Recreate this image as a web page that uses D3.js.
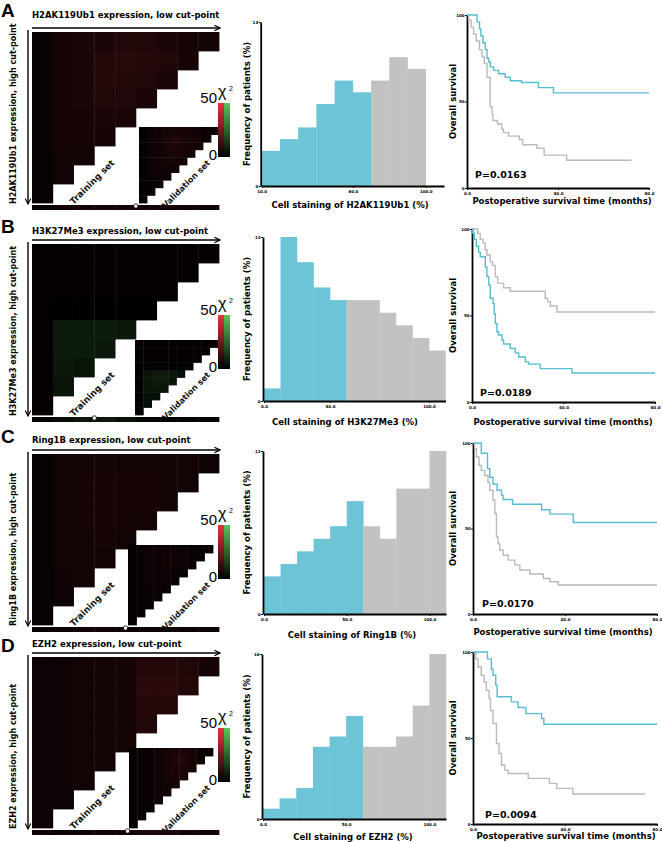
<!DOCTYPE html>
<html>
<head>
<meta charset="utf-8">
<script src="https://cdn.jsdelivr.net/npm/d3@7"></script>
<style>
  body { margin: 0; background: #fff; }
  text { font-family: "DejaVu Sans", Verdana, sans-serif; }
</style>
</head>
<body>
<div id="fig"></div>
<script>
// ---- DATA ----

const panelLetters = ["A", "B", "C", "D"];
const markers = ["H2AK119Ub1", "H3K27Me3", "Ring1B", "EZH2"];
const pValues = ["P=0.0163", "P=0.0189", "P=0.0170", "P=0.0094"];

// X-tile chi-square grids (positive = red, negative = green)
const trainA = [[2,5,6,6,7,7,6,5,4],[2,5,6,8,9,8,7,5],[2,5,6,8,8,7,6],[2,5,6,7,7,6],[2,5,5,6,6],[2,5,5,5],[2,4,4],[2,4],[2]];
const trainB = [[1,1,1,1,1,1,1,1,1],[1,1,1,1,1,1,1,1],[1,1,1,1,1,1,1],[1,0,0,0,0,0],[1,-7,-7,-7,-6],[1,-7,-7,-6],[1,-6,-5],[1,-5],[1]];
const trainC = [[2,4,4,4,4,4,4,4,3],[2,4,5,5,5,5,4,4],[2,4,5,5,5,5,4],[2,4,5,5,5,4],[2,4,4,5,4],[2,4,4,4],[2,3,4],[2,3],[2]];
const trainD = [[3,3,4,4,5,8,8,7,5],[3,3,4,4,5,9,9,8],[3,3,4,4,5,8,8],[3,3,4,4,5,7],[3,3,4,4,5],[3,3,4,4],[3,3,4],[3,3],[3]];

const validA = [[1,3,4,5,5,5,4,3,2,2],[1,3,4,6,7,6,5,4,3],[1,3,4,6,7,6,5,4],[1,3,4,5,6,5,4],[1,3,4,5,5,4],[1,3,3,4,4],[1,2,3,3],[1,2,3],[1,2],[1]];
const validB = [[1,1,1,1,1,1,1,1,1,1],[1,1,1,1,1,1,1,1,1],[1,1,1,1,1,1,1,1],[1,0,-1,-1,0,0,0],[1,-5,-7,-7,-6,-4],[1,-5,-7,-7,-5],[1,-5,-6,-5],[1,-4,-4],[1,-3],[1]];
const validC = [[1,2,3,3,3,3,3,2,2,2],[1,2,3,3,4,3,3,2,2],[1,2,3,3,4,3,3,2],[1,2,3,3,3,3,2],[1,2,3,3,3,2],[1,2,2,3,2],[1,2,2,2],[1,2,2],[1,2],[1]];
const validD = [[1,2,2,3,5,6,6,5,3,2],[1,2,2,3,5,7,7,5,3],[1,2,2,3,5,6,6,5],[1,2,2,3,5,6,5],[1,2,2,3,4,5],[1,2,2,3,4],[1,2,2,3],[1,2,2],[1,2],[1]];

// strip below each X-tile plot and optimal cut-point marker (column units)
const stripA = [2,4,5,5,5,5,4,4,3];
const stripB = [1,-3,-6,-6,-4,-2,1,1,1];
const stripC = [2,3,4,4,3,3,3,3,2];
const stripD = [3,3,3,4,4,6,6,5,4];
const cutMarks = [5, 3, 4.5, 4.6];

// histograms: frequency (%) per 10% bin, low group (teal) then high group (grey)
const binStart = [10, 0, 0, 0];
const histXMax = [110, 110, 110, 110];
const histLow  = [[3,4,5,7,9,8], [1,13,11,9,8], [3,4,5,6,7,9], [1,2,3,7,8,10]];
const histHigh = [[9,11,10], [8,8,7,6,5,4], [7,6,10,10,13], [7,7,8,11,16]];
const histYMax = [14, 13, 13, 16];
const histXTicks = [[10,60,100], [0,40,100], [0,50,100], [0,50,100]];

// Kaplan-Meier curves: [months, survival %]
const kmTealA = [[0,100],[4.4,96],[5.5,92],[6.1,88],[7,84],[8,80],[8.8,75],[9.5,73],[10.2,70],[11.7,68],[13.9,66],[16.8,64],[19,62],[24,61],[31.4,58],[38,55],[80,55]];
const kmGrayA = [[0,100],[0.7,97],[1.8,93],[2.9,89],[4.1,85],[5.5,80],[6.6,76],[7.6,72],[8.8,64],[10.2,47],[11,43],[11.4,39],[13.4,37],[15.3,34],[16,32],[18.3,30],[23,28],[24.5,25],[30.7,23],[33.9,19],[43.8,16],[72.3,16]];
const kmTealB = [[0,100],[0.3,97.5],[1,94],[1.9,90],[2.9,86.5],[3.6,84],[5.8,78],[6.5,72.5],[7.3,67.7],[8,60],[9.2,57],[9.7,51],[10.2,45.4],[10.9,40.6],[11.6,38.7],[13.1,35.8],[13.8,33.5],[16.7,31],[18.9,28.4],[20.4,26],[23.3,23.2],[24.7,21.9],[29.8,19.3],[43.7,16.8],[80,16.8]];
const kmGrayB = [[0,100],[2.5,97.5],[3.6,94],[4.8,92],[5.8,88],[6.5,85],[8,81],[9,79],[10.2,72.5],[11.2,68.7],[13.8,66],[16.7,64],[32,60],[33,58],[34.2,55.5],[37.1,52],[80,52]];
const kmTealC = [[0,100],[3.6,94],[6.3,85],[7.3,80],[8.7,76],[10.5,72.4],[12.4,69.5],[13.1,67],[17.2,64.2],[29.8,61],[33.5,58.4],[43.6,53.5],[80,53.5]];
const kmGrayC = [[0,100],[0.7,96.7],[1.5,91.8],[2.6,87],[3.6,84],[5.1,81],[6.5,77],[7.3,72.4],[8.7,66.5],[9.5,58.8],[10.2,45],[10.9,41],[11.6,37.4],[13.1,34.4],[15.3,31.5],[18.2,28.6],[20.4,25.7],[24.7,23.4],[30.6,20.8],[33.5,18.9],[37.1,17],[80,17]];
const kmTealD = [[0,100],[6.3,96],[8,90],[8.7,86.5],[9.9,80.6],[10.5,74],[16.7,71],[19.6,67.7],[23,64.2],[29.8,61.3],[30.8,58],[80,58]];
const kmGrayD = [[0,100],[1.2,96],[2.2,91.3],[3.6,86.5],[4.8,82.6],[5.8,77.7],[7,73],[7.6,66],[8.7,58.4],[10.2,46.8],[11.3,41],[12.4,34.2],[13.8,31.3],[15.3,29.4],[24,26.5],[33.2,23.6],[36.4,20.7],[43.4,17.4],[74.9,17.4]];
const kmXTicks = [0, 40, 80];
const kmYTicks = [0, 50, 100];

const trainSets = [trainA, trainB, trainC, trainD];
const validSets = [validA, validB, validC, validD];
const stripSets = [stripA, stripB, stripC, stripD];
const kmTeal = [kmTealA, kmTealB, kmTealC, kmTealD];
const kmGray = [kmGrayA, kmGrayB, kmGrayC, kmGrayD];

// ---- LAYOUT ----

const layout = [
  { top: 28,  title: 18,  letter: 17,  inset: [139, 219, 127],
    hist: { x: [261.7, 444], y: [186, 22],  lab: [350, 208] },
    km:   { x: [467, 649],   y: [188, 15],  lab: [562, 204], p: [475, 178] } },
  { top: 240, title: 234, letter: 233, inset: [135, 218, 340],
    hist: { x: [264, 445.5], y: [401, 237], lab: [345, 425] },
    km:   { x: [472, 655],   y: [402, 229], lab: [563, 425], p: [480, 396] } },
  { top: 450, title: 443, letter: 443, inset: [128, 213, 545],
    hist: { x: [264, 446],   y: [614, 451], lab: [352, 638] },
    km:   { x: [473, 657],   y: [614, 443], lab: [563, 635], p: [482, 607] } },
  { top: 653, title: 647, letter: 652, inset: [129, 213, 748],
    hist: { x: [263, 446],   y: [819, 654], lab: [353, 840] },
    km:   { x: [473, 657],   y: [824, 652], lab: [566, 839], p: [485, 818] } }
];

const TEAL = "#6cc4d6", GREY = "#c2c2c2";
const KM_TEAL = "#58bdd1", KM_GREY = "#bbbbbb";
const RED = "#e3333b", GREEN = "#5cc45c";

function chiColor(v) {
  return v >= 0 ? d3.interpolateRgb("#000000", RED)(v / 50)
                : d3.interpolateRgb("#000000", GREEN)(-v / 50);
}

// ---- SVG ----

const svg = d3.select("#fig").append("svg")
  .attr("width", 662).attr("height", 842);

svg.append("rect").attr("width", 662).attr("height", 842).attr("fill", "#fff");

const defs = svg.append("defs");
[["gRed", RED], ["gGreen", GREEN]].forEach(([id, c]) => {
  const lg = defs.append("linearGradient").attr("id", id)
    .attr("x1", 0).attr("y1", 0).attr("x2", 0).attr("y2", 1);
  lg.append("stop").attr("offset", "0%").attr("stop-color", c);
  lg.append("stop").attr("offset", "100%").attr("stop-color", "#000");
});
defs.append("marker").attr("id", "arrow")
  .attr("viewBox", "0 0 10 10").attr("refX", 9).attr("refY", 5)
  .attr("markerWidth", 5).attr("markerHeight", 5).attr("orient", "auto")
  .append("path").attr("d", "M1,1 L9,5 L1,9").attr("fill", "none")
  .attr("stroke", "#000").attr("stroke-width", 1.6);

function drawGrid(g, grid, x0, x1, y0, y1) {
  const xs = d3.scaleBand().domain(d3.range(grid[0].length)).range([x0, x1]);
  const ys = d3.scaleBand().domain(d3.range(grid.length)).range([y0, y1]);
  grid.forEach((row, r) => {
    g.selectAll(null).data(row).enter().append("rect")
      .attr("x", (d, c) => xs(c))
      .attr("y", ys(r))
      .attr("width", xs.bandwidth() + 0.4)
      .attr("height", ys.bandwidth() + 0.4)
      .attr("fill", d => chiColor(d));
  });
}

layout.forEach((L, i) => {
  const a = L.top;
  const g = svg.append("g");

  // panel letter
  g.append("text").attr("x", 1).attr("y", L.letter)
    .style("font-family", '"Liberation Sans", Arial, sans-serif')
    .style("font-size", "19px").style("font-weight", "bold")
    .text(panelLetters[i]);

  // ---- X-tile plot ----
  g.append("text").attr("x", 32).attr("y", L.title)
    .style("font-size", "8.5px").style("font-weight", "bold")
    .text(markers[i] + " expression, low cut-point");

  g.append("line").attr("x1", 32).attr("x2", 220).attr("y1", a).attr("y2", a)
    .attr("stroke", "#000").attr("stroke-width", 1.4).attr("marker-end", "url(#arrow)");
  g.append("line").attr("x1", 28).attr("x2", 28).attr("y1", a + 2).attr("y2", a + 176)
    .attr("stroke", "#000").attr("stroke-width", 1.4).attr("marker-end", "url(#arrow)");

  g.append("text")
    .attr("transform", `translate(16,${a + 176}) rotate(-90)`)
    .style("font-size", "8px").style("font-weight", "bold")
    .text(markers[i] + " expression,  high cut-point");

  drawGrid(g, trainSets[i], 32, 219, a + 4, a + 175);
  drawGrid(g, validSets[i], L.inset[0], L.inset[1], L.inset[2], a + 175);

  // strip and cut-point marker
  const sx = d3.scaleLinear().domain([0, stripSets[i].length]).range([32, 219]);
  g.selectAll(null).data(stripSets[i]).enter().append("rect")
    .attr("x", (d, k) => sx(k)).attr("y", a + 177)
    .attr("width", sx(1) - sx(0) + 0.4).attr("height", 5)
    .attr("fill", d => chiColor(d));
  g.append("circle").attr("cx", sx(cutMarks[i])).attr("cy", a + 178).attr("r", 2.2)
    .attr("fill", "#fff").attr("stroke", "#000").attr("stroke-width", 0.8);

  g.append("text")
    .attr("transform", `translate(92,${a + 154}) rotate(-45)`)
    .attr("text-anchor", "middle").attr("dy", "0.35em")
    .style("font-size", "8.8px").style("font-weight", "bold").attr("fill", "#111")
    .text("Training set");
  g.append("text")
    .attr("transform", `translate(186,${a + 156}) rotate(-45)`)
    .attr("text-anchor", "middle").attr("dy", "0.35em")
    .style("font-size", "8.2px").style("font-weight", "bold").attr("fill", "#111")
    .text("Validation set");

  // chi-square legend
  g.append("rect").attr("x", 218).attr("y", a + 75).attr("width", 6).attr("height", 54)
    .attr("fill", "url(#gRed)");
  g.append("rect").attr("x", 224).attr("y", a + 75).attr("width", 6).attr("height", 54)
    .attr("fill", "url(#gGreen)");
  const lf = '"Liberation Sans", Arial, sans-serif';
  g.append("text").attr("x", 217).attr("y", a + 75).attr("text-anchor", "end")
    .style("font-family", lf).style("font-size", "15px").text("50");
  g.append("text").attr("x", 217).attr("y", a + 132).attr("text-anchor", "end")
    .style("font-family", lf).style("font-size", "15px").text("0");
  g.append("text").attr("x", 218).attr("y", a + 69)
    .style("font-family", lf).style("font-size", "16px").text("\u03C7");
  g.append("text").attr("x", 229).attr("y", a + 63)
    .style("font-family", lf).style("font-size", "7px").text("2");

  // ---- histogram ----
  const H = L.hist;
  const hx = d3.scaleLinear().domain([binStart[i], histXMax[i]]).range(H.x);
  const hy = d3.scaleLinear().domain([0, histYMax[i]]).range(H.y);
  const bins = histLow[i].map(v => ({ v, c: TEAL }))
    .concat(histHigh[i].map(v => ({ v, c: GREY })));
  g.selectAll(null).data(bins).enter().append("rect")
    .attr("x", (d, k) => hx(binStart[i] + 10 * k))
    .attr("y", d => hy(d.v))
    .attr("width", (d, k) => hx(binStart[i] + 10 * (k + 1)) - hx(binStart[i] + 10 * k) + 0.3)
    .attr("height", d => hy(0) - hy(d.v))
    .attr("fill", d => d.c);

  const hxAxis = g.append("g").attr("transform", `translate(0,${H.y[0]})`)
    .call(d3.axisBottom(hx).tickValues(histXTicks[i]).tickFormat(d3.format(".1f"))
      .tickSize(2).tickSizeOuter(0));
  const hyAxis = g.append("g").attr("transform", `translate(${H.x[0] - 1},0)`)
    .call(d3.axisLeft(hy).tickValues([0, histYMax[i]]).tickSize(2).tickSizeOuter(0));
  [hxAxis, hyAxis].forEach(ax => {
    ax.select(".domain").attr("stroke-width", 1.8);
    ax.selectAll("text").style("font-size", "4px").style("font-weight", "bold")
      .style("font-family", '"DejaVu Sans", sans-serif');
  });
  hyAxis.selectAll("text").attr("x", -2.5);
  hxAxis.selectAll("text").attr("y", 4);

  g.append("text").attr("x", H.lab[0]).attr("y", H.lab[1]).attr("text-anchor", "middle")
    .style("font-size", "8.5px").style("font-weight", "bold")
    .text("Cell staining of " + markers[i] + " (%)");
  g.append("text")
    .attr("transform", `translate(250,${(H.y[0] + H.y[1]) / 2}) rotate(-90)`)
    .attr("text-anchor", "middle")
    .style("font-size", "8.5px").style("font-weight", "bold")
    .text("Frequency of patients (%)");

  // ---- Kaplan-Meier ----
  const K = L.km;
  const kx = d3.scaleLinear().domain([0, 80]).range(K.x);
  const ky = d3.scaleLinear().domain([0, 100]).range(K.y);
  const line = d3.line().x(d => kx(d[0])).y(d => ky(d[1])).curve(d3.curveStepAfter);

  const kxAxis = g.append("g").attr("transform", `translate(0,${K.y[0]})`)
    .call(d3.axisBottom(kx).tickValues(kmXTicks).tickFormat(d3.format(".1f"))
      .tickSize(2).tickSizeOuter(0));
  const kyAxis = g.append("g").attr("transform", `translate(${K.x[0]},0)`)
    .call(d3.axisLeft(ky).tickValues(kmYTicks).tickSize(2).tickSizeOuter(0));
  [kxAxis, kyAxis].forEach(ax => {
    ax.select(".domain").attr("stroke-width", 1.8);
    ax.selectAll("text").style("font-size", "4px").style("font-weight", "bold")
      .style("font-family", '"DejaVu Sans", sans-serif');
  });
  kyAxis.selectAll("text").attr("x", -2.5);
  kxAxis.selectAll("text").attr("y", 4);

  g.append("path").datum(kmGray[i]).attr("d", line)
    .attr("fill", "none").attr("stroke", KM_GREY).attr("stroke-width", 1.4);
  g.append("path").datum(kmTeal[i]).attr("d", line)
    .attr("fill", "none").attr("stroke", KM_TEAL).attr("stroke-width", 1.4);

  g.append("text").attr("x", K.p[0]).attr("y", K.p[1])
    .style("font-size", "9.5px").style("font-weight", "bold")
    .text(pValues[i]);
  g.append("text").attr("x", K.lab[0]).attr("y", K.lab[1]).attr("text-anchor", "middle")
    .style("font-size", "8.5px").style("font-weight", "bold")
    .text("Postoperative survival time (months)");
  g.append("text")
    .attr("transform", `translate(456,${(K.y[0] + K.y[1]) / 2}) rotate(-90)`)
    .attr("text-anchor", "middle")
    .style("font-size", "8.5px").style("font-weight", "bold")
    .text("Overall survival");
});
</script>
</body>
</html>
